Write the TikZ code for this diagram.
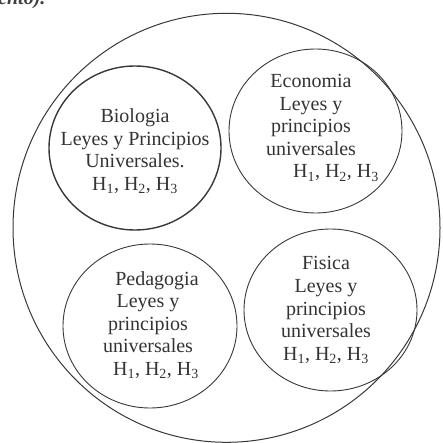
\documentclass[tikz,border=0pt]{standalone}
\usepackage{fontspec}
\setmainfont{Liberation Serif}
\begin{document}
\begin{tikzpicture}[x=1pt,y=-1pt,
  ring/.style={draw=black!78, line width=0.9pt},
  label/.style={align=center, text=black!80, inner sep=0pt,
    font=\fontsize{20}{22.5}\selectfont}]
\useasboundingbox (0,0) rectangle (442,443);
\begin{scope}
\clip (0,0) rectangle (442,443);
\node[anchor=base west, inner sep=0pt, text=black!75,
  font=\fontsize{20}{22}\selectfont\bfseries\itshape] (top) at (-2,5) {ento).};
\end{scope}
% outer circle
\draw[ring, line width=1pt] (226.5,227.8) ellipse [x radius=213.5, y radius=214.5];
% inner circles
\draw[ring, line width=1.4pt] (135,148) ellipse [x radius=86, y radius=82];
\draw[ring] (315.5,131) ellipse [x radius=86.5, y radius=82];
\draw[ring] (150,326) ellipse [x radius=87, y radius=82];
\draw[ring] (330.5,310) ellipse [x radius=86.5, y radius=81];
% texts
\node[label] (bio) at (135,151) {Biologia\\Leyes y Principios\\Universales.\\H\textsubscript{1}, H\textsubscript{2}, H\textsubscript{3}};
\node[label] (eco) at (311,128) {Economia\\Leyes y\\principios\\universales\\\hspace*{50pt}H\textsubscript{1}, H\textsubscript{2}, H\textsubscript{3}};
\node[label] (ped) at (148,325) {\hspace*{18pt}Pedagogia\\Leyes y\\principios\\universales\\\hspace*{16pt}H\textsubscript{1}, H\textsubscript{2}, H\textsubscript{3}};
\node[label] (fis) at (326,310) {Fisica\\Leyes y\\principios\\universales\\H\textsubscript{1}, H\textsubscript{2}, H\textsubscript{3}};
\end{tikzpicture}
\end{document}
